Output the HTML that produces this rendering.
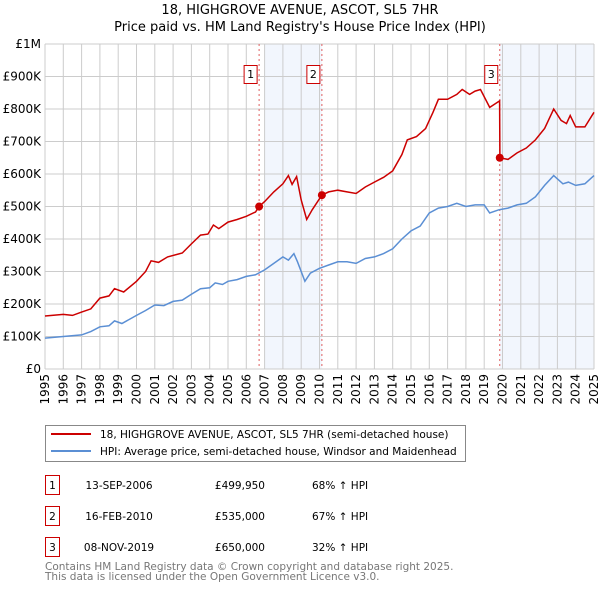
<!DOCTYPE html>
<html><head><meta charset="utf-8"><style>
body{margin:0;background:#fff;font-family:"DejaVu Sans","Liberation Sans",sans-serif;}
svg text{font-family:"DejaVu Sans","Liberation Sans",sans-serif;}
</style></head><body>
<svg id="c" width="600" height="590" xmlns="http://www.w3.org/2000/svg">
<text x="300" y="14" text-anchor="middle" font-size="13" fill="#000">18, HIGHGROVE AVENUE, ASCOT, SL5 7HR</text>
<text x="300" y="31" text-anchor="middle" font-size="13" fill="#000">Price paid vs. HM Land Registry's House Price Index (HPI)</text>
<g id="grid"></g><g id="series"></g><g id="axes"></g>
<g>
<rect x="45.5" y="425.5" width="420" height="36" fill="#fff" stroke="#888"/>
<line x1="51" y1="434" x2="91" y2="434" stroke="#cc0000" stroke-width="2"/>
<text x="100" y="438" font-size="10.5">18, HIGHGROVE AVENUE, ASCOT, SL5 7HR (semi-detached house)</text>
<line x1="51" y1="451" x2="91" y2="451" stroke="#5b8fd4" stroke-width="2"/>
<text x="100" y="455" font-size="10.5">HPI: Average price, semi-detached house, Windsor and Maidenhead</text>
</g>
<g id="table" font-size="10.5"></g>
<text x="45" y="570" font-size="10.5" fill="#777">Contains HM Land Registry data © Crown copyright and database right 2025.</text>
<text x="45" y="580" font-size="10.5" fill="#777">This data is licensed under the Open Government Licence v3.0.</text>
</svg>
<script>
const yearTicks=[1995,1996,1997,1998,1999,2000,2001,2002,2003,2004,2005,2006,2007,2008,2009,2010,2011,2012,2013,2014,2015,2016,2017,2018,2019,2020,2021,2022,2023,2024,2025];
const valueTicks=[0,100,200,300,400,500,600,700,800,900,1000];
const valueTickLabels=["£0","£100K","£200K","£300K","£400K","£500K","£600K","£700K","£800K","£900K","£1M"];
const hpiT=[1995,1996,1997,1997.5,1998,1998.5,1998.8,1999.2,2000,2000.5,2001,2001.5,2002,2002.5,2003,2003.5,2004,2004.3,2004.7,2005,2005.5,2006,2006.5,2007,2007.5,2008,2008.3,2008.6,2008.8,2009.2,2009.5,2010,2010.5,2011,2011.5,2012,2012.5,2013,2013.5,2014,2014.5,2015,2015.5,2016,2016.5,2017,2017.5,2018,2018.5,2019,2019.3,2019.8,2020.3,2020.8,2021.3,2021.8,2022.3,2022.8,2023.3,2023.6,2024,2024.5,2025];
const hpiV=[95,100,105,115,130,133,148,140,165,180,197,195,208,212,230,247,250,265,260,270,275,285,290,305,325,345,335,355,330,270,295,310,320,330,330,325,340,345,355,370,400,425,440,480,495,500,510,500,505,505,480,490,495,505,510,530,565,595,570,575,565,570,595];
const redT=[1995,1996,1996.5,1997,1997.5,1998,1998.5,1998.8,1999.3,2000,2000.5,2000.8,2001.2,2001.7,2002.5,2003,2003.5,2003.9,2004.2,2004.5,2005,2005.5,2006,2006.5,2006.7,2007,2007.5,2008,2008.3,2008.5,2008.75,2009,2009.3,2009.6,2010.13,2010.5,2011,2011.5,2012,2012.5,2013,2013.5,2014,2014.5,2014.8,2015.3,2015.8,2016.2,2016.5,2017,2017.5,2017.8,2018.2,2018.5,2018.8,2019.3,2019.84,2019.86,2020.3,2020.8,2021.3,2021.8,2022.3,2022.8,2023.2,2023.5,2023.7,2024,2024.5,2025];
const redV=[163,168,165,175,185,218,225,247,237,270,300,333,328,345,357,385,412,415,443,432,452,460,470,483,500,515,545,570,595,568,592,520,460,490,535,545,550,545,540,560,575,590,610,660,705,715,740,790,830,830,845,860,845,855,860,805,825,650,645,665,680,705,740,800,765,755,780,745,745,790];
const saleLabels=["1","2","3"];
const saleT=[2006.7,2010.13,2019.85];
const saleV=[499.95,535,650];
const saleDates=["13-SEP-2006","16-FEB-2010","08-NOV-2019"];
const salePrices=["£499,950","£535,000","£650,000"];
const saleHpi=["68% ↑ HPI","67% ↑ HPI","32% ↑ HPI"];

const X0=45,X1=594,Y0=369,Y1=44;
const x=t=>X0+(t-1995)/30*(X1-X0);
const y=v=>Y0-v/1000*(Y0-Y1);
const NS="http://www.w3.org/2000/svg";
function mk(tag,attrs,parent,txt){const e=document.createElementNS(NS,tag);for(const k in attrs)e.setAttribute(k,attrs[k]);if(txt!=null)e.textContent=txt;parent.appendChild(e);return e;}
const grid=document.getElementById('grid'),series=document.getElementById('series'),axes=document.getElementById('axes'),table=document.getElementById('table');
let s1=mk('rect',{x:x(2007),y:Y1,width:x(saleT[1])-x(2007),height:Y0-Y1,fill:'#f2f6fd'},grid);


let s2=mk('rect',{x:x(saleT[2]),y:Y1,width:X1-x(saleT[2]),height:Y0-Y1,fill:'#f2f6fd'},grid);


yearTicks.forEach(t=>{let l=mk('line',{x1:x(t),x2:x(t),y1:Y1,y2:Y0,stroke:'#ccc','stroke-width':1},grid);


let tx=mk('text',{x:0,y:0,'font-size':12,transform:`translate(${x(t)+4},${Y0+5}) rotate(-90)`,'text-anchor':'end'},axes,String(t));

});
valueTicks.forEach((v,i)=>{let l=mk('line',{x1:X0,x2:X1,y1:y(v),y2:y(v),stroke:'#ccc','stroke-width':1},grid);


let tx=mk('text',{x:X0-4,y:y(v)+4,'font-size':12,'text-anchor':'end'},axes,valueTickLabels[i]);

});
saleT.forEach((t,i)=>{let l=mk('line',{x1:x(t),x2:x(t),y1:Y1,y2:Y0,stroke:'#e06060','stroke-width':1,'stroke-dasharray':'2,3'},grid);


let bx=mk('rect',{x:x(t)-15,y:65.5,width:13,height:18,fill:'#fff',stroke:'#cc0000'},axes);


let tx=mk('text',{x:x(t)-8.5,y:78,'font-size':11,'text-anchor':'middle'},axes,saleLabels[i]);

});
const pts=(T,V)=>T.map((t,i)=>x(t).toFixed(1)+','+y(V[i]).toFixed(1)).join(' ');
let hp=mk('polyline',{points:pts(hpiT,hpiV),fill:'none',stroke:'#5b8fd4','stroke-width':1.5},series);


let rp=mk('polyline',{points:pts(redT,redV),fill:'none',stroke:'#cc0000','stroke-width':1.5},series);


saleT.forEach((t,i)=>{let c=mk('circle',{cx:x(t),cy:y(saleV[i]),r:4,fill:'#cc0000'},series);

});
saleT.forEach((t,i)=>{const ry=483+i*31;
let b=mk('rect',{x:45.5,y:ry-7.5,width:14,height:19,fill:'#fff',stroke:'#cc0000'},table);


let a=mk('text',{x:52.5,y:ry+6,'text-anchor':'middle'},table,saleLabels[i]);


let d=mk('text',{x:119,y:ry+6,'text-anchor':'middle'},table,saleDates[i]);


let p=mk('text',{x:265,y:ry+6,'text-anchor':'end'},table,salePrices[i]);


let h=mk('text',{x:312,y:ry+6},table,saleHpi[i]);

});
</script>
</body></html>
